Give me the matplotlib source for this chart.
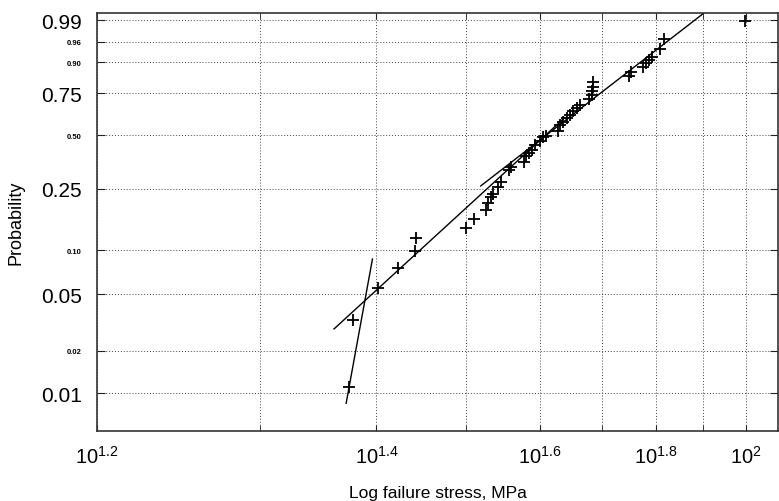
import numpy as np
import matplotlib
matplotlib.use('Agg')
from matplotlib import pyplot as plt
from matplotlib.ticker import FixedLocator, NullFormatter

plt.rcParams['font.family'] = ['Liberation Sans', 'DejaVu Sans']
plt.rcParams['mathtext.fontset'] = 'custom'
plt.rcParams['mathtext.rm'] = 'Liberation Sans'
plt.rcParams['mathtext.it'] = 'Liberation Sans:italic'
plt.rcParams['mathtext.bf'] = 'Liberation Sans:bold'
plt.rcParams['mathtext.default'] = 'regular'

# failure stress as log10(MPa), and cumulative failure probability
log_stress = [1.374, 1.377, 1.401, 1.422, 1.440, 1.441, 1.500, 1.509, 1.525, 1.527,
              1.531, 1.534, 1.540, 1.545, 1.556, 1.558, 1.577, 1.580, 1.584, 1.588,
              1.593, 1.600, 1.605, 1.609, 1.627, 1.630, 1.636, 1.641, 1.646, 1.651,
              1.657, 1.663, 1.678, 1.682, 1.683, 1.684, 1.684, 1.748, 1.752, 1.775,
              1.780, 1.787, 1.793, 1.808, 1.816, 1.998]
prob = [0.011, 0.033, 0.055, 0.076, 0.098, 0.120, 0.141, 0.162, 0.185, 0.204,
        0.223, 0.234, 0.257, 0.274, 0.323, 0.336, 0.361, 0.388, 0.405, 0.423,
        0.447, 0.470, 0.489, 0.499, 0.528, 0.558, 0.576, 0.605, 0.620, 0.643,
        0.661, 0.681, 0.716, 0.739, 0.764, 0.786, 0.809, 0.841, 0.861, 0.880,
        0.897, 0.908, 0.920, 0.943, 0.966, 0.989]

# fitted Weibull lines (start/end)
fit_steep_x = [1.371, 1.396]
fit_steep_p = [0.0085, 0.087]
fit_low_x = [1.360, 1.638]
fit_low_p = [0.0285, 0.605]
fit_high_x = [1.518, 1.901]
fit_high_p = [0.261, 0.9943]

y_ticks = [0.01, 0.02, 0.05, 0.10, 0.25, 0.50, 0.75, 0.90, 0.96, 0.99]
y_big = [0.01, 0.05, 0.25, 0.75, 0.99]
x_ticks = [1.2, 1.4, 1.6, 1.8, 2.0]
x_minor = [1.3, 1.5, 1.7, 1.9]
x_labels = ['$10^{1.2}$', '$10^{1.4}$', '$10^{1.6}$', '$10^{1.8}$', '$10^{2}$']


def wb(p):
    p = np.clip(np.asarray(p, float), 1e-12, 1 - 1e-12)
    return np.log(-np.log(1 - p))


def wb_inv(w):
    return 1 - np.exp(-np.exp(w))


def lx(x):
    return np.log(np.maximum(np.asarray(x, float) - 1, 1e-12))


def lx_inv(u):
    return 1 + np.exp(u)


fig = plt.figure(figsize=(7.79, 5.02), dpi=100)
ax = fig.add_axes([0.1245, 0.140, 0.8742, 0.833])
ax.set_xscale('function', functions=(lx, lx_inv))
ax.set_yscale('function', functions=(wb, wb_inv))

ax.plot(fit_steep_x, fit_steep_p, color='black', lw=1)
ax.plot(fit_low_x, fit_low_p, color='black', lw=1)
ax.plot(fit_high_x, fit_high_p, color='black', lw=1)
ax.plot(log_stress, prob, '+', color='black', ms=8.5, mew=1.3)

ax.set_xlim(1.2, 2.0826)
ax.set_ylim(0.005426, 0.99452)

ax.xaxis.set_major_locator(FixedLocator(x_ticks))
ax.xaxis.set_minor_locator(FixedLocator(x_minor))
ax.xaxis.set_minor_formatter(NullFormatter())
ax.set_xticklabels(x_labels, fontsize=14.5)
ax.yaxis.set_major_locator(FixedLocator(y_ticks))
ax.yaxis.set_minor_locator(FixedLocator([]))
ax.set_yticklabels(['%.2f' % v for v in y_ticks])
for v, lab in zip(y_ticks, ax.get_yticklabels()):
    if v in y_big:
        lab.set_fontsize(15)
    else:
        lab.set_fontsize(5.5)
        lab.set_fontweight('bold')

ax.grid(True, which='both', color='#444444', ls=(0, (1, 2)), lw=0.7)
ax.tick_params(axis='both', which='both', direction='in', top=True, right=True, color='#222222')
ax.tick_params(axis='y', length=6, pad=11)
ax.tick_params(axis='x', which='both', length=4, pad=10)
for s in ax.spines.values():
    s.set_color('#333333')
    s.set_linewidth(1.2)

ax.set_xlabel('Log failure stress, MPa', fontsize=12.5, labelpad=13)
ax.set_ylabel('Probability', fontsize=13, labelpad=12)

fig.savefig('out.png', dpi=100)
